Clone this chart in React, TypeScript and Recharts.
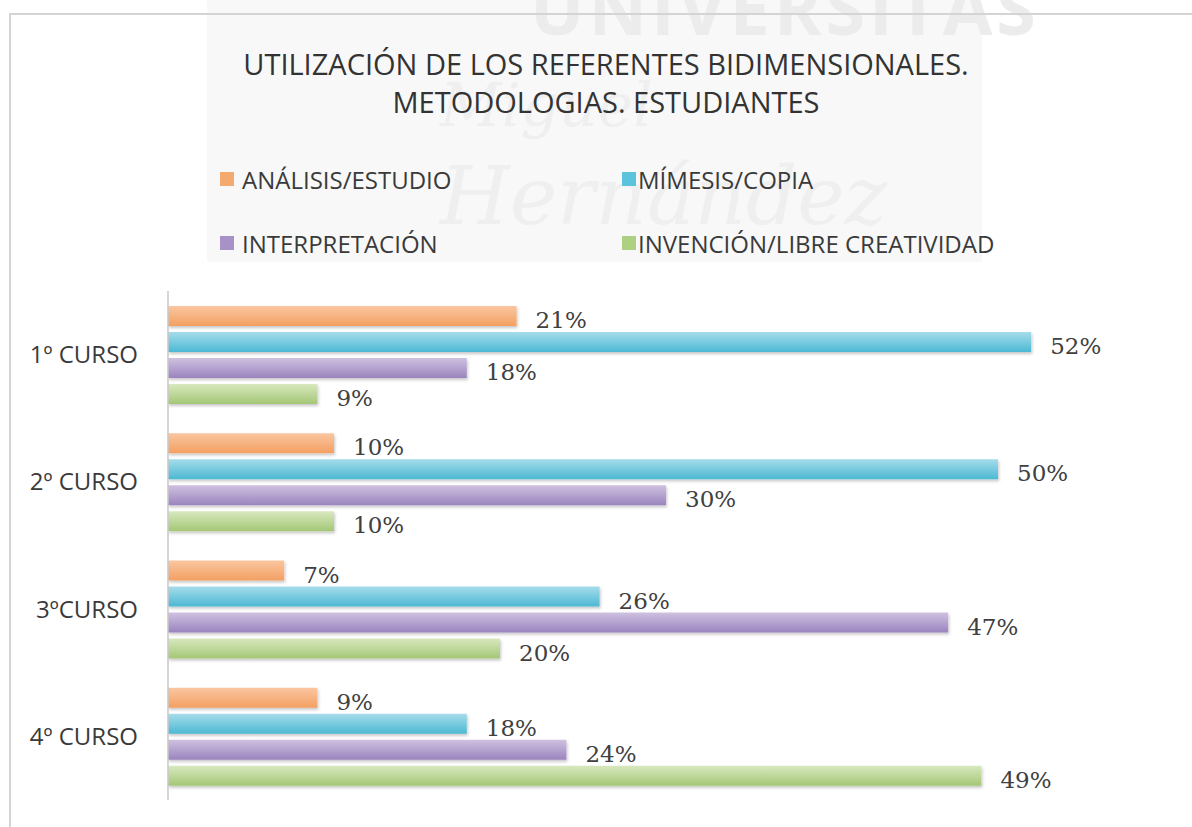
import React from "react";
import { Bar, BarChart, LabelList, Legend, XAxis, YAxis } from "recharts";

const categories = ["1º CURSO", "2º CURSO", "3ºCURSO", "4º CURSO"];
const analisis = [21, 10, 7, 9];
const mimesis = [52, 50, 26, 18];
const interpretacion = [18, 30, 47, 24];
const invencion = [9, 10, 20, 49];

const seriesNames = [
  "ANÁLISIS/ESTUDIO",
  "MÍMESIS/COPIA",
  "INTERPRETACIÓN",
  "INVENCIÓN/LIBRE CREATIVIDAD",
];

const series = [
  { key: "analisis", name: seriesNames[0], top: "#fac6a0", bottom: "#f3a062", swatch: "#f4a96f" },
  { key: "mimesis", name: seriesNames[1], top: "#a6dceb", bottom: "#4cb9d3", swatch: "#5cc3dc" },
  { key: "interpretacion", name: seriesNames[2], top: "#cfc1e0", bottom: "#9a84be", swatch: "#a692c6" },
  { key: "invencion", name: seriesNames[3], top: "#d8e8be", bottom: "#a4c776", swatch: "#aed083" },
];

const data = categories.map((cat, i) => ({
  cat,
  analisis: analisis[i],
  mimesis: mimesis[i],
  interpretacion: interpretacion[i],
  invencion: invencion[i],
}));

const sans = "'Open Sans', 'Noto Sans', sans-serif";

function ValueLabel(props: any) {
  const { x, y, width, height, value } = props;
  return (
    <text
      x={x + width + 19}
      y={y + height / 2 + 4}
      dominantBaseline="central"
      fontFamily="'DejaVu Serif', serif"
      fontSize={23}
      fill="#404040"
    >
      {value}%
    </text>
  );
}

function LegendGrid() {
  const cols = [220, 622];
  const rows = [179, 243];
  return (
    <div style={{ position: "relative", width: 1192, height: 0 }}>
      {series.map((s, i) => (
        <div
          key={s.key}
          style={{
            position: "absolute",
            left: cols[i % 2],
            top: rows[Math.floor(i / 2)] - 17,
            height: 34,
            display: "flex",
            alignItems: "center",
            fontFamily: sans,
            fontSize: 24,
            color: "#3a3a3a",
            whiteSpace: "nowrap",
          }}
        >
          <span
            style={{
              display: "inline-block",
              width: 14,
              height: 14,
              background: s.swatch,
              marginRight: i % 2 === 0 ? 8 : 2,
            }}
          />
          {s.name}
        </div>
      ))}
    </div>
  );
}

export default function App() {
  return (
    <div style={{ position: "absolute", left: 0, top: 0, width: 1192, height: 827, background: "#fff", overflow: "hidden" }}>
      {/* faint watermark behind the chart */}
      <div style={{ position: "absolute", left: 207, top: 0, width: 775, height: 262, background: "#f8f8f8" }} />
      <div style={{ position: "absolute", left: 530, top: -42, fontFamily: sans, fontWeight: 700, fontSize: 72, color: "#ececec", letterSpacing: 4 }}>
        UNIVERSITAS
      </div>
      <div style={{ position: "absolute", left: 440, top: 70, fontFamily: "'DejaVu Serif', serif", fontStyle: "italic", fontSize: 60, color: "#efefef" }}>
        Miguel
      </div>
      <div style={{ position: "absolute", left: 440, top: 150, fontFamily: "'DejaVu Serif', serif", fontStyle: "italic", fontSize: 80, color: "#efefef" }}>
        Hernández
      </div>
      {/* frame */}
      <div style={{ position: "absolute", left: 9, top: 13, width: 1184, height: 814, borderTop: "2px solid #d4d4d4", borderLeft: "2px solid #d4d4d4" }} />

      <div style={{ position: "absolute", left: 0, top: 45, width: 1212, textAlign: "center", fontFamily: sans, fontSize: 29, color: "#333", lineHeight: "38px" }}>
        <div>UTILIZACIÓN DE LOS REFERENTES BIDIMENSIONALES.</div>
        <div>METODOLOGIAS. ESTUDIANTES</div>
      </div>

      <div style={{ position: "absolute", left: 0, top: 0 }}>
        <BarChart
          width={1192}
          height={827}
          data={data}
          layout="vertical"
          margin={{ top: 291, right: 28, bottom: 27, left: 0 }}
          barSize={20}
          barGap={6}
        >
          <defs>
            {series.map((s) => (
              <linearGradient key={s.key} id={`grad-${s.key}`} x1="0" y1="0" x2="0" y2="1">
                <stop offset="0%" stopColor={s.top} />
                <stop offset="100%" stopColor={s.bottom} />
              </linearGradient>
            ))}
            <filter id="barShadow" x="-5%" y="-30%" width="110%" height="180%">
              <feDropShadow dx="1" dy="2" stdDeviation="1.5" floodColor="#000" floodOpacity="0.22" />
            </filter>
          </defs>
          <XAxis type="number" domain={[0, 60]} hide />
          <YAxis
            type="category"
            dataKey="cat"
            width={168}
            tickLine={false}
            tickSize={0}
            tickMargin={30}
            axisLine={{ stroke: "#c8c8c8", strokeWidth: 1.5 }}
            tick={{ fontFamily: sans, fontSize: 24, fill: "#3a3a3a" }}
          />
          <Legend content={() => <LegendGrid />} wrapperStyle={{ top: 0, left: 0 }} />
          {series.map((s) => (
            <Bar
              key={s.key}
              dataKey={s.key}
              name={s.name}
              fill={`url(#grad-${s.key})`}
              filter="url(#barShadow)"
              isAnimationActive={false}
            >
              <LabelList dataKey={s.key} content={ValueLabel} />
            </Bar>
          ))}
        </BarChart>
      </div>
    </div>
  );
}
